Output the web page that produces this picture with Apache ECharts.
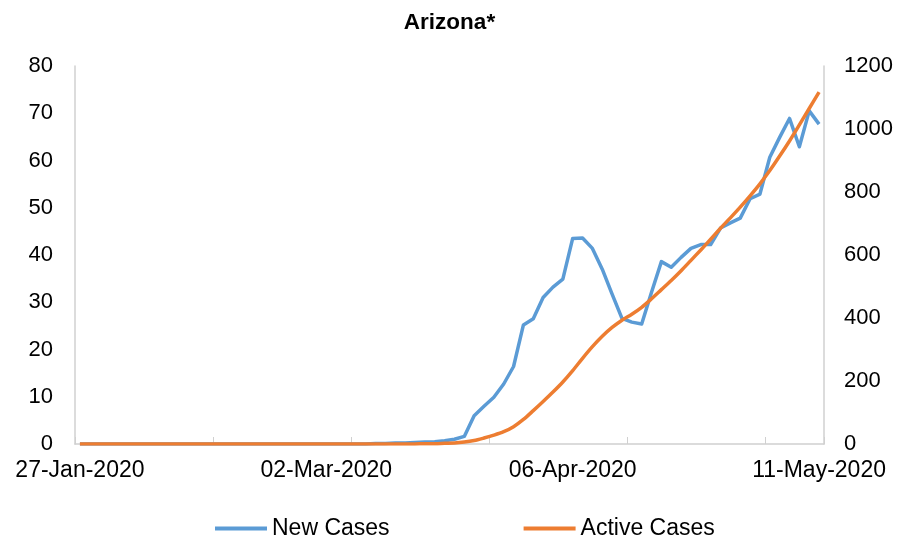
<!DOCTYPE html>
<html>
<head>
<meta charset="utf-8">
<script src="https://cdn.jsdelivr.net/npm/echarts@6/dist/echarts.min.js"></script>
<style>
  html, body { margin: 0; padding: 0; background: #fff; }
  #main { width: 899px; height: 541px; }
</style>
</head>
<body>
<div id="main"></div>
<script>
// weekdays only, 27-Jan-2020 .. 11-May-2020
var dates = [
  '27-Jan-2020','28-Jan-2020','29-Jan-2020','30-Jan-2020','31-Jan-2020',
  '03-Feb-2020','04-Feb-2020','05-Feb-2020','06-Feb-2020','07-Feb-2020',
  '10-Feb-2020','11-Feb-2020','12-Feb-2020','13-Feb-2020','14-Feb-2020',
  '17-Feb-2020','18-Feb-2020','19-Feb-2020','20-Feb-2020','21-Feb-2020',
  '24-Feb-2020','25-Feb-2020','26-Feb-2020','27-Feb-2020','28-Feb-2020',
  '02-Mar-2020','03-Mar-2020','04-Mar-2020','05-Mar-2020','06-Mar-2020',
  '09-Mar-2020','10-Mar-2020','11-Mar-2020','12-Mar-2020','13-Mar-2020',
  '16-Mar-2020','17-Mar-2020','18-Mar-2020','19-Mar-2020','20-Mar-2020',
  '23-Mar-2020','24-Mar-2020','25-Mar-2020','26-Mar-2020','27-Mar-2020',
  '30-Mar-2020','31-Mar-2020','01-Apr-2020','02-Apr-2020','03-Apr-2020',
  '06-Apr-2020','07-Apr-2020','08-Apr-2020','09-Apr-2020','10-Apr-2020',
  '13-Apr-2020','14-Apr-2020','15-Apr-2020','16-Apr-2020','17-Apr-2020',
  '20-Apr-2020','21-Apr-2020','22-Apr-2020','23-Apr-2020','24-Apr-2020',
  '27-Apr-2020','28-Apr-2020','29-Apr-2020','30-Apr-2020','01-May-2020',
  '04-May-2020','05-May-2020','06-May-2020','07-May-2020','08-May-2020',
  '11-May-2020'
];

// left axis
var newCases = [
  0,0,0,0,0, 0,0,0,0,0, 0,0,0,0,0, 0,0,0,0,0, 0,0,0,0,0,
  0,0,0,0,0,
  0.1,0.1,0.2,0.2,0.3,
  0.4,0.5,0.7,1.0,1.6,
  6.0,8.0,9.9,12.7,16.4,
  25.2,26.5,31.0,33.2,34.9,
  43.5,43.6,41.4,37.0,31.7,
  26.6,25.8,25.4,32.1,38.6,
  37.4,39.5,41.4,42.2,42.2,
  45.7,46.8,47.8,51.9,52.9,
  60.7,64.9,68.9,62.9,70.5,
  67.7
];

// right axis
var activeCases = [
  0,0,0,0,0, 0,0,0,0,0, 0,0,0,0,0, 0,0,0,0,0, 0,0,0,0,0,
  0,0,0,0,0,
  0,0,0,0,0,
  1,1,2,3,6,
  11,19,28,39,55,
  78,106,135,165,197,
  233,272,309,342,370,
  393,412,434,461,490,
  519,550,583,616,650,
  685,718,752,788,826,
  868,914,962,1013,1065,
  1117
];

var leftTicks = [0, 80, 10];
var rightTicks = [0, 1200, 200];

var gridColor = '#d0d0d0';
var font = 'Liberation Sans, Arial, sans-serif';
var fs = 22;

var myChart = echarts.init(document.getElementById('main'));
myChart.setOption({
  animation: false,
  title: {
    text: 'Arizona*',
    left: 'center',
    top: 6,
    textStyle: { fontSize: 22.5, fontWeight: 'bold', color: '#000', fontFamily: font }
  },
  legend: {
    left: 210,
    top: 512,
    itemWidth: 52,
    itemHeight: 4,
    itemGap: 134,
    textStyle: { fontSize: 23, color: '#000', fontFamily: font },
    data: [
      { name: 'New Cases', icon: 'rect' },
      { name: 'Active Cases', icon: 'rect' }
    ]
  },
  grid: { left: 75, right: 75, top: 66, bottom: 97, containLabel: false },
  xAxis: {
    type: 'category',
    data: dates,
    boundaryGap: true,
    axisLine: { lineStyle: { color: gridColor, width: 1.5 } },
    axisTick: { show: true, inside: true, length: 7, interval: 13, lineStyle: { color: gridColor } },
    axisLabel: { interval: 24, fontSize: 23, color: '#000', fontFamily: font, margin: 15 },
    splitLine: { show: false }
  },
  yAxis: [
    {
      type: 'value',
      min: leftTicks[0], max: leftTicks[1], interval: leftTicks[2],
      axisLine: { show: true, lineStyle: { color: gridColor, width: 1.5 } },
      axisTick: { show: false },
      axisLabel: { fontSize: fs, color: '#000', fontFamily: font, margin: 22 },
      splitLine: { show: false }
    },
    {
      type: 'value',
      min: rightTicks[0], max: rightTicks[1], interval: rightTicks[2],
      axisLine: { show: true, lineStyle: { color: gridColor, width: 1.5 } },
      axisTick: { show: false },
      axisLabel: {
        fontSize: fs, color: '#000', fontFamily: font, margin: 20,
        formatter: function (v) { return String(v); }
      },
      splitLine: { show: false }
    }
  ],
  series: [
    {
      name: 'New Cases',
      type: 'line',
      yAxisIndex: 0,
      data: newCases,
      showSymbol: false,
      smooth: false,
      itemStyle: { color: '#5B9BD5' },
      lineStyle: { color: '#5B9BD5', width: 3.5, join: 'round' }
    },
    {
      name: 'Active Cases',
      type: 'line',
      yAxisIndex: 1,
      data: activeCases,
      showSymbol: false,
      smooth: 0.3,
      itemStyle: { color: '#ED7D31' },
      lineStyle: { color: '#ED7D31', width: 3.5, join: 'round' }
    }
  ]
});
</script>
</body>
</html>
